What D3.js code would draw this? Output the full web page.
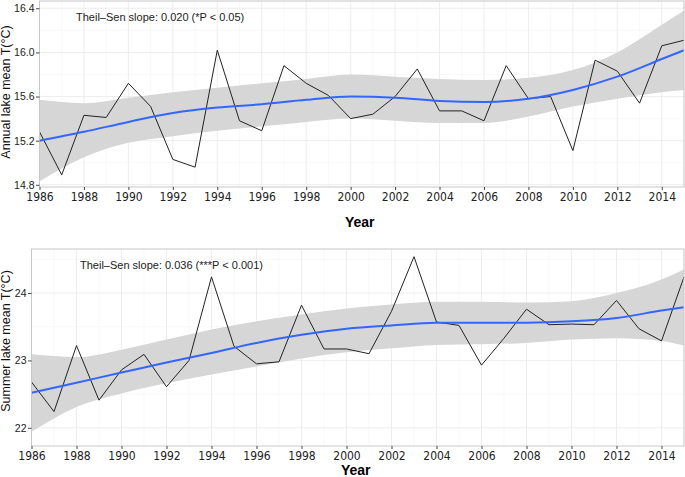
<!DOCTYPE html>
<html>
<head>
<meta charset="utf-8">
<script src="https://cdn.jsdelivr.net/npm/d3@7"></script>
<style>
  body { margin: 0; background: #fff; }
  svg { font-family: "Liberation Sans", Arial, sans-serif; }
</style>
</head>
<body>
<svg id="chart" width="685" height="477"></svg>
<script>
// observed yearly values
const years = d3.range(1986, 2016);
const annualMean = [15.28, 14.89, 15.43, 15.41, 15.72, 15.51, 15.03, 14.96, 16.02, 15.38,
                    15.29, 15.88, 15.72, 15.61, 15.40, 15.44, 15.60, 15.85, 15.47, 15.47,
                    15.38, 15.88, 15.58, 15.60, 15.11, 15.93, 15.83, 15.54, 16.06, 16.11];
const summerMean = [22.68, 22.24, 23.22, 22.41, 22.86, 23.09, 22.61, 23.00, 24.24, 23.21,
                    22.95, 22.98, 23.82, 23.17, 23.17, 23.10, 23.73, 24.54, 23.57, 23.52,
                    22.93, 23.33, 23.76, 23.53, 23.54, 23.53, 23.89, 23.47, 23.29, 24.24];

// loess fit and confidence band, read at these years
const fitYears = [1986, 1988, 1990, 1992, 1994, 1996, 1998, 2000, 2002, 2004, 2006, 2008, 2010, 2012, 2014, 2015];
const annualFit   = [15.20, 15.28, 15.37, 15.45, 15.50, 15.53, 15.57, 15.60, 15.59, 15.56, 15.55, 15.58, 15.66, 15.78, 15.94, 16.02];
const annualUpper = [15.57, 15.54, 15.59, 15.64, 15.68, 15.72, 15.76, 15.80, 15.78, 15.76, 15.75, 15.77, 15.84, 16.00, 16.25, 16.38];
const annualLower = [14.83, 15.05, 15.18, 15.24, 15.29, 15.33, 15.37, 15.40, 15.38, 15.36, 15.36, 15.42, 15.51, 15.58, 15.64, 15.66];
const summerFit   = [22.52, 22.67, 22.82, 22.97, 23.11, 23.26, 23.38, 23.47, 23.52, 23.56, 23.56, 23.56, 23.58, 23.63, 23.74, 23.79];
const summerUpper = [23.09, 23.05, 23.16, 23.31, 23.46, 23.58, 23.68, 23.77, 23.83, 23.87, 23.87, 23.86, 23.88, 24.00, 24.20, 24.35];
const summerLower = [21.94, 22.31, 22.51, 22.66, 22.79, 22.91, 23.03, 23.12, 23.18, 23.23, 23.24, 23.26, 23.31, 23.33, 23.29, 23.22];

const xTicks = d3.range(1986, 2016, 2);
const annualTicks = [14.8, 15.2, 15.6, 16.0, 16.4];
const summerTicks = [22, 23, 24];

const svg = d3.select("#chart");

function drawPanel(opt) {
    const x = d3.scaleLinear().domain([1986, 2015]).range([opt.left, 684]);
    const y = d3.scaleLinear().domain(opt.yDomain).range([opt.bottom, opt.top]);
    const g = svg.append("g");

    // minor grid
    const minorX = d3.range(1987, 2016, 2);
    g.selectAll(".mx").data(minorX).enter().append("line")
        .attr("x1", d => x(d)).attr("x2", d => x(d))
        .attr("y1", opt.top).attr("y2", opt.bottom)
        .attr("stroke", "#f4f4f4").attr("stroke-width", 0.6);
    g.selectAll(".my").data(opt.minorY).enter().append("line")
        .attr("x1", opt.left).attr("x2", 684)
        .attr("y1", d => y(d)).attr("y2", d => y(d))
        .attr("stroke", "#f4f4f4").attr("stroke-width", 0.6);
    // major grid
    g.selectAll(".gx").data(xTicks).enter().append("line")
        .attr("x1", d => x(d)).attr("x2", d => x(d))
        .attr("y1", opt.top).attr("y2", opt.bottom)
        .attr("stroke", "#e8e8e8").attr("stroke-width", 0.8);
    g.selectAll(".gy").data(opt.yTicks).enter().append("line")
        .attr("x1", opt.left).attr("x2", 684)
        .attr("y1", d => y(d)).attr("y2", d => y(d))
        .attr("stroke", "#e8e8e8").attr("stroke-width", 0.8);

    // confidence band
    const band = fitYears.map((yr, i) => ({ yr, lo: opt.lower[i], hi: opt.upper[i], fit: opt.fit[i] }));
    g.append("path")
        .datum(band)
        .attr("fill", "#d6d6d6")
        .attr("d", d3.area().curve(d3.curveMonotoneX)
            .x(d => x(d.yr)).y0(d => y(d.lo)).y1(d => y(d.hi)));

    // observed series
    g.append("path")
        .datum(years.map((yr, i) => [yr, opt.values[i]]))
        .attr("fill", "none")
        .attr("stroke", "#222")
        .attr("stroke-width", 1)
        .attr("d", d3.line().x(d => x(d[0])).y(d => y(d[1])));

    // smooth fit
    g.append("path")
        .datum(band)
        .attr("fill", "none")
        .attr("stroke", "#3366ff")
        .attr("stroke-width", 2)
        .attr("d", d3.line().curve(d3.curveMonotoneX).x(d => x(d.yr)).y(d => y(d.fit)));

    // panel border
    g.append("rect")
        .attr("x", opt.left).attr("y", opt.top)
        .attr("width", 684 - opt.left).attr("height", opt.bottom - opt.top)
        .attr("fill", "none").attr("stroke", "#c8c8c8").attr("stroke-width", 1);

    // axes
    const xAxis = g.append("g")
        .attr("transform", `translate(0,${opt.bottom})`)
        .call(d3.axisBottom(x).tickValues(xTicks).tickFormat(d3.format("d")).tickSize(3).tickPadding(2));
    xAxis.select(".domain").remove();
    xAxis.selectAll("line").attr("stroke", "#444");
    xAxis.selectAll("text")
        .attr("fill", "#222")
        .style("font-family", "'Liberation Sans Narrow', 'DejaVu Sans Condensed', sans-serif")
        .style("font-size", "12px");

    const yAxis = g.append("g")
        .attr("transform", `translate(${opt.left},0)`)
        .call(d3.axisLeft(y).tickValues(opt.yTicks).tickFormat(d3.format(opt.yFormat)).tickSize(3.5).tickPadding(1.5));
    yAxis.select(".domain").remove();
    yAxis.selectAll("line").attr("stroke", "#444");
    yAxis.selectAll("text").attr("fill", "#222").style("font-size", "10.5px");

    // titles
    g.append("text")
        .attr("x", (opt.left + 684) / 2 - 2).attr("y", opt.yearY)
        .attr("text-anchor", "middle")
        .style("font-family", "'Liberation Sans Narrow', sans-serif")
        .style("font-weight", "bold").style("font-size", "14px")
        .text("Year");
    g.append("text")
        .attr("transform", `translate(10,${opt.titleY}) rotate(-90)`)
        .attr("text-anchor", "middle")
        .style("font-size", "12.5px")
        .attr("fill", "#111")
        .text(opt.yTitle);

    g.append("text")
        .attr("x", opt.noteX).attr("y", opt.top + 20)
        .style("font-family", "'Liberation Sans Narrow', sans-serif")
        .style("font-size", "11px").attr("fill", "#222")
        .text(opt.note);
}

drawPanel({
    left: 39.5, top: 1, bottom: 187,
    yDomain: [14.78, 16.466],
    yTicks: annualTicks, minorY: [15.0, 15.4, 15.8, 16.2], yFormat: ".1f",
    values: annualMean, fit: annualFit, upper: annualUpper, lower: annualLower,
    yTitle: "Annual lake mean T(°C)", titleY: 92, yearY: 227,
    note: "Theil\u2013Sen slope: 0.020 (*P < 0.05)", noteX: 76
});

drawPanel({
    left: 31.5, top: 249, bottom: 446,
    yDomain: [21.73, 24.654],
    yTicks: summerTicks, minorY: [22.5, 23.5, 24.5], yFormat: "d",
    values: summerMean, fit: summerFit, upper: summerUpper, lower: summerLower,
    yTitle: "Summer lake mean T(°C)", titleY: 341, yearY: 475,
    note: "Theil\u2013Sen slope: 0.036 (***P < 0.001)", noteX: 80
});
</script>
</body>
</html>
